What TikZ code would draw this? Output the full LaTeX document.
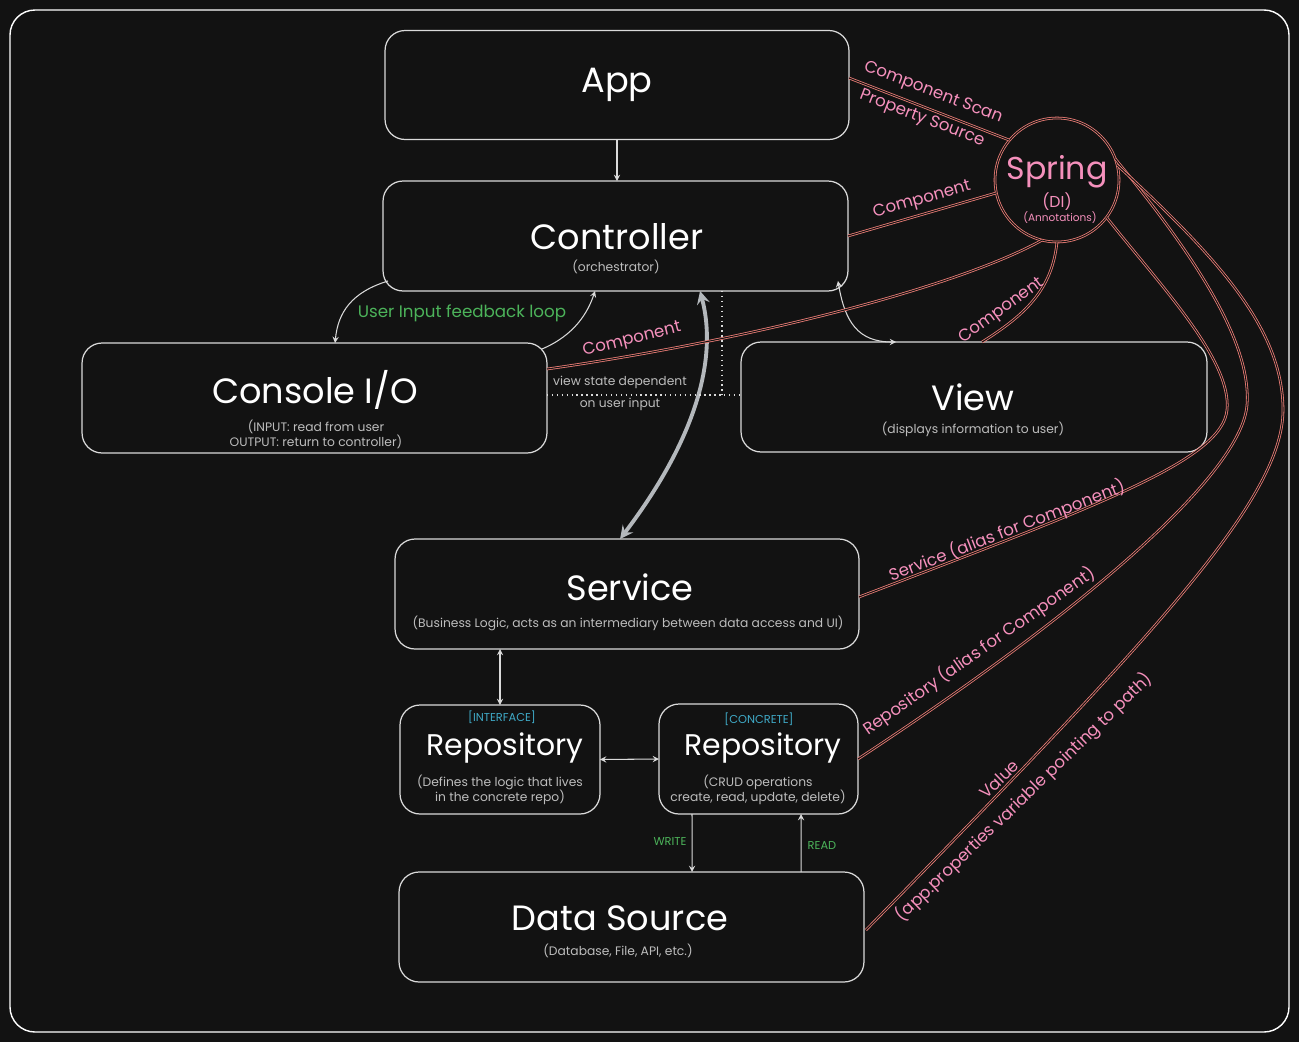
\documentclass[tikz,border=0pt]{standalone}
\usepackage{fontspec}
\setmainfont{Poppins}
\usetikzlibrary{positioning,calc}

\definecolor{bgc}{HTML}{121212}
\definecolor{edge}{HTML}{DADADA}
\definecolor{subt}{HTML}{BDBDBD}
\definecolor{springline}{HTML}{EE7F78}
\definecolor{springtext}{HTML}{F590BC}
\definecolor{loopgreen}{HTML}{4CB35A}
\definecolor{tagblue}{HTML}{3FA9C6}
\definecolor{bigarrow}{HTML}{B4B8BC}

\tikzset{
    block/.style={draw=edge, line width=0.7pt, rounded corners=0.4cm, inner sep=0pt, outer sep=0pt},
    ttl/.style={text=white, font=\fontsize{20}{22}\selectfont},
    subtxt/.style={text=subt, font=\fontsize{7}{8.5}\selectfont, align=center},
    tagtxt/.style={text=tagblue, font=\fontsize{6.5}{8}\selectfont},
    notetxt/.style={text=loopgreen, font=\fontsize{9.5}{11}\selectfont},
    lbl/.style={text=springtext, font=\fontsize{9.5}{11}\selectfont},
    spr/.style={draw=springline, double=bgc, double distance=0.6pt, line width=0.45pt},
    flow/.style={draw=edge, line width=0.6pt, >=stealth},
}

\begin{document}
\begin{tikzpicture}[x=0.02cm, y=-0.02cm]
    \fill[bgc] (0,0) rectangle (1299,1042);
    \useasboundingbox (0,0) rectangle (1299,1042);
    \draw[white, line width=0.8pt, rounded corners=0.5cm] (10,10) rectangle (1289,1032);

    % boxes
    \node[block, minimum width=9.28cm, minimum height=2.18cm] (app) at (617,85) {};
    \node[block, minimum width=9.3cm, minimum height=2.2cm] (ctrl) at (615.5,236) {};
    \node[block, minimum width=9.3cm, minimum height=2.2cm] (cio) at (314.5,398) {};
    \node[block, minimum width=9.32cm, minimum height=2.2cm] (view) at (974,397) {};
    \node[block, minimum width=9.28cm, minimum height=2.2cm] (svc) at (627,594) {};
    \node[block, minimum width=4cm, minimum height=2.18cm] (repoI) at (500,759.5) {};
    \node[block, minimum width=3.98cm, minimum height=2.2cm] (repoC) at (758.5,759) {};
    \node[block, minimum width=9.3cm, minimum height=2.2cm] (src) at (631.5,927) {};
    \node[spr, circle, minimum size=2.48cm, inner sep=0pt, outer sep=0pt] (spring) at (1057,180) {};

    % texts
    \node[ttl] (app-t) at (617,85) {App};
    \node[ttl] (ctrl-t) at (617,237) {Controller};
    \node[subtxt] (ctrl-s) at (616,267) {(orchestrator)};
    \node[ttl] (cio-t) at (315,390) {Console I/O};
    \node[subtxt] (cio-s) at (316,434) {(INPUT: read from user\\OUTPUT: return to controller)};
    \node[ttl] (view-t) at (973,397) {View};
    \node[subtxt] (view-s) at (973,429) {(displays information to user)};
    \node[ttl] (svc-t) at (630,587) {Service};
    \node[subtxt] (svc-s) at (628,623) {(Business Logic, acts as an intermediary between data access and UI)};
    \node[tagtxt] (repoI-g) at (502,717) {[INTERFACE]};
    \node[ttl, font=\fontsize{17}{19}\selectfont] (repoI-t) at (505,748) {Repository};
    \node[subtxt] (repoI-s) at (500,790) {(Defines the logic that lives\\in the concrete repo)};
    \node[tagtxt] (repoC-g) at (759,719) {[CONCRETE]};
    \node[ttl, font=\fontsize{17}{19}\selectfont] (repoC-t) at (763,748) {Repository};
    \node[subtxt] (repoC-s) at (758,790) {(CRUD operations\\create, read, update, delete)};
    \node[ttl] (src-t) at (620,918) {Data Source};
    \node[subtxt] (src-s) at (618,951) {(Database, File, API, etc.)};
    \node[text=springtext, font=\fontsize{18}{20}\selectfont] (sp-t) at (1057,172) {Spring};
    \node[text=springtext, font=\fontsize{9}{10}\selectfont] (sp-d) at (1057,202) {(DI)};
    \node[text=springtext, font=\fontsize{6}{7}\selectfont] (sp-a) at (1060,218) {(Annotations)};

    % flow between layers
    \draw[flow,->] (app.south) -- (app.south |- ctrl.north);
    \draw[flow,->] ($(ctrl.south west)+(5,-10)$) .. controls (352,292) and (338,312) .. ($(cio.north west)+(253,0)$);
    \draw[flow,->] ($(cio.north east)+(-5,6)$) .. controls (575,335) and (588,312) .. ($(ctrl.south west)+(212,0)$);
    \node[notetxt] (fb) at (462,313) {User Input feedback loop};
    \draw[line width=2.2pt, draw=bigarrow, <->, >=stealth] ($(ctrl.south west)+(317,0)$) .. controls (718,360) and (695,440) .. ($(svc.north west)+(225,0)$);
    \draw[flow,<->] ($(ctrl.south east)+(-10,-10)$) .. controls (845,322) and (858,342) .. ($(view.north west)+(155,0)$);

    % view state
    \coordinate (dc) at (722,395);
    \draw[edge, dotted, line width=0.8pt] (dc |- ctrl.south) -- (dc) (cio.east |- dc) -- (view.west |- dc);
    \node[subtxt] (vs) at (620,393) {view state dependent\\[4pt]on user input};

    % data access
    \draw[flow,<->] (repoI.north |- svc.south) -- (repoI.north);
    \draw[flow,<->] (repoI.east) -- (repoC.west);
    \draw[flow,->] ($(repoC.south west)+(33,0)$) -- ($(src.north west)+(293,0)$);
    \draw[flow,->] ($(src.north west)+(402,0)$) -- ($(repoC.south west)+(142,0)$);
    \node[tagtxt, text=loopgreen] (wr) at (670,842) {WRITE};
    \node[tagtxt, text=loopgreen] (rd) at (822,846) {READ};

    % spring wiring
    \draw[spr] ($(app.east)+(0,-7)$) -- (spring.140);
    \node[lbl, rotate=-21] (cs) at (933,93) {Component Scan};
    \node[lbl, rotate=-21] (ps) at (922,119) {Property Source};
    \draw[spr] (ctrl.east) -- (spring.192);
    \node[lbl, rotate=16] (c1) at (922,200) {Component};
    \draw[spr] ($(cio.north east)+(0,26)$) .. controls (745,341) and (956,288) .. (spring.256);
    \node[lbl, rotate=14] (c2) at (632,340) {Component};
    \draw[spr] ($(view.north west)+(241,0)$) .. controls (1025,315) and (1052,290) .. (spring.270);
    \node[lbl, rotate=36] (c3) at (1002,311) {Component};
    \draw[spr] ($(svc.east)+(0,3)$) .. controls (1100,505) and (1222,460) .. (1227,410) .. controls (1232,360) and (1160,285) .. (spring.-37);
    \node[lbl, rotate=21] (sl) at (1007,531) {Service (alias for Component)};
    \draw[spr] (repoC.east) .. controls (1100,600) and (1242,470) .. (1247,405) .. controls (1252,340) and (1190,250) .. (spring.20);
    \node[lbl, rotate=35] (rl) at (979,651) {Repository (alias for Component)};
    \draw[spr] ($(src.east)+(2,3)$) .. controls (1150,640) and (1283,500) .. (1283,410) .. controls (1283,330) and (1220,260) .. (spring.14);
    \node[lbl, rotate=44] (vl) at (999,779) {Value};
    \node[lbl, rotate=44] (al) at (1024,797) {(app.properties variable pointing to path)};
\end{tikzpicture}
\end{document}
